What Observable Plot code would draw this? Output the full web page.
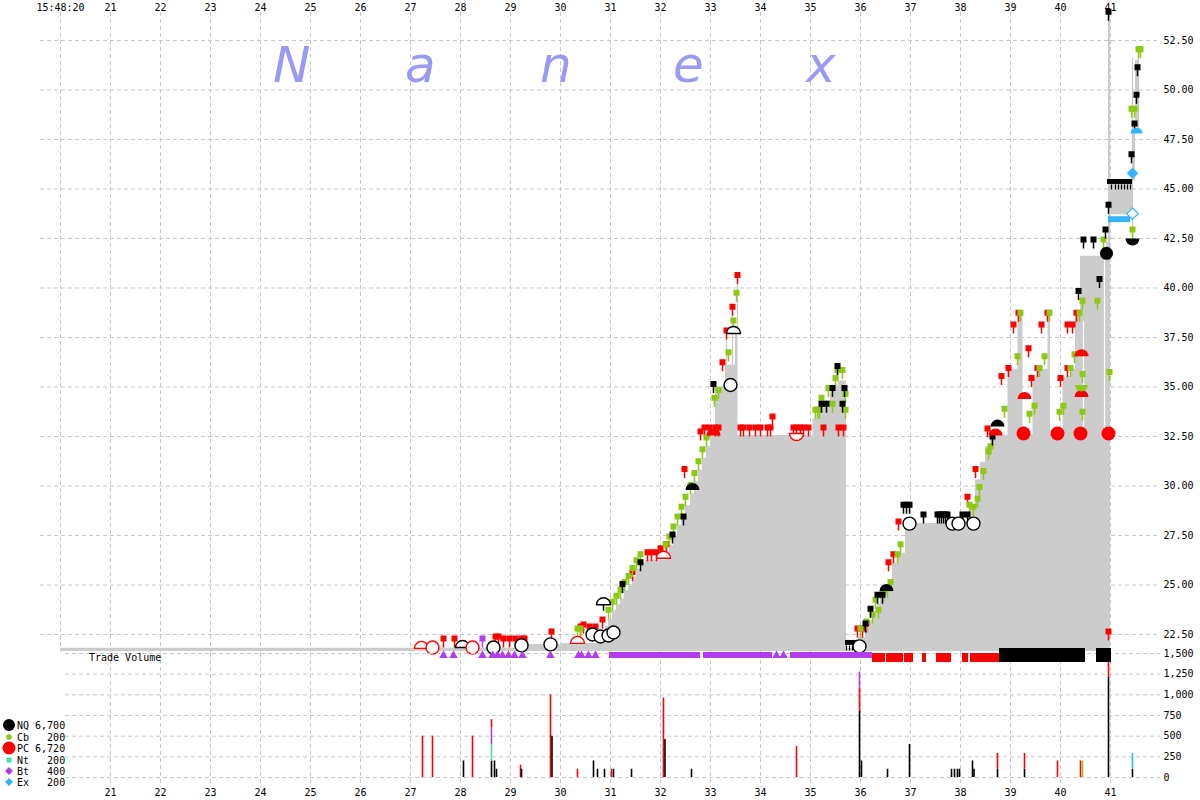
<!DOCTYPE html>
<html><head><meta charset="utf-8">
<script src="https://cdn.jsdelivr.net/npm/d3@7"></script>
<script src="https://cdn.jsdelivr.net/npm/@observablehq/plot@0.6"></script>
<style>
html,body{margin:0;padding:0;background:#fff;overflow:hidden;}
#wrap{position:relative;width:1200px;height:800px;overflow:hidden;}
.layer{position:absolute;left:0;}
</style></head><body><div id="wrap"></div>
<script>
// ---------- DATA ----------
const seconds = [20,21,22,23,24,25,26,27,28,29,30,31,32,33,34,35,36,37,38,39,40,41];
const timeLabels = ["15:48:20","21","22","23","24","25","26","27","28","29","30","31","32","33","34","35","36","37","38","39","40","41"];
const priceTicks = [22.5,25,27.5,30,32.5,35,37.5,40,42.5,45,47.5,50,52.5];
const volTicks = [0,250,500,750,1000,1250,1500];

// NBBO spread shading: [second, bid, ask]
const spreadRows = [
[20.0,21.64,21.8],[29.34,21.64,22.0],[30.0,21.64,22.05],[30.84,21.64,22.4],[30.9,21.64,22.9],
[30.96,21.64,23.3],[31.04,21.64,23.7],[31.12,21.64,24.0],[31.2,21.64,24.3],[31.28,21.64,24.7],
[31.36,21.64,25.0],[31.44,21.64,25.4],[31.52,21.64,25.8],[31.6,21.64,26.1],[31.7,21.64,26.25],
[32.1,21.64,26.6],[32.18,21.64,27.0],[32.26,21.64,27.5],[32.34,21.64,28.0],[32.42,21.64,28.5],
[32.5,21.64,29.0],[32.6,21.64,29.6],[32.68,21.64,30.2],[32.76,21.64,30.8],[32.84,21.64,31.4],
[32.92,21.64,32.0],[33.0,21.64,32.6],[33.1,21.64,35.0],[33.3,21.64,36.1],[33.5,21.64,37.7],
[33.55,21.64,32.55],[35.05,21.64,33.4],[35.15,21.64,33.9],[35.25,21.64,34.3],[35.4,21.64,35.0],
[35.55,21.64,35.3],[35.72,21.64,21.8],[35.96,21.64,22.35],[36.1,21.64,22.85],[36.2,21.64,23.2],
[36.26,21.64,23.55],[36.34,21.64,24.05],[36.4,21.64,24.5],[36.54,21.64,24.7],[36.6,21.64,25.2],
[36.64,21.64,26.1],[36.76,21.64,26.6],[36.9,21.64,28.1],[38.2,21.64,28.9],[38.3,21.64,30.3],
[38.4,21.64,31.2],[38.5,21.64,32.0],[38.6,21.64,32.55],[38.95,21.64,35.9],[39.15,21.64,38.7],
[39.25,21.64,32.6],[39.45,21.64,35.5],[39.55,21.64,35.9],[39.75,21.64,38.7],[39.8,21.64,32.6],
[40.05,21.64,35.5],[40.2,21.64,35.9],[40.3,21.64,38.7],[40.4,21.64,41.6],[40.92,21.64,42.3],
[40.96,21.64,53.8],[41.0,43.7,45.3],[41.44,45.4,48.0],[41.5,48.1,51.5],[41.58,48.1,51.5]
];

// quote pins [second, price]
const pcPins = [
[27.66,21.84],[27.88,21.84],[28.7,21.94],[28.76,21.94],[28.86,21.84],[28.98,21.84],[29.1,21.84],[29.22,21.84],[29.28,21.84],
[29.82,22.2],[30.4,22.45],[30.46,22.55],[30.58,22.45],[30.7,22.45],[30.84,22.8],[31.44,25.2],[31.74,26.2],[31.82,26.2],
[31.92,26.2],[32.0,26.4],[32.12,26.6],[32.48,30.4],[32.8,32.3],[32.88,32.5],[32.98,32.5],[33.1,32.5],[33.16,32.5],
[33.24,35.8],[33.32,37.4],[33.44,38.6],[33.54,40.2],[33.6,32.5],[33.66,32.5],[33.78,32.5],[33.9,32.5],[34.0,32.5],
[34.14,32.5],[34.2,32.5],[34.24,33.05],[34.66,32.5],[34.72,32.5],[34.8,32.5],[34.86,32.5],[34.96,32.5],[35.26,32.5],
[35.56,32.5],[35.66,32.5],[35.94,22.35],[36.04,22.35],[36.12,22.6],[36.56,25.7],[36.66,26.1],[36.76,27.75],
[38.14,29.0],[38.3,30.4],[38.54,32.45],[38.82,35.1],[38.96,35.5],[39.06,37.7],[39.16,38.3],[39.36,36.5],[39.42,35.0],
[39.54,35.5],[39.62,37.7],[39.74,38.3],[40.0,35.0],[40.14,35.5],[40.14,37.7],[40.24,37.7],[40.32,38.3],[40.96,22.2]
];
const cbPins = [
[30.34,22.35],[30.4,22.35],[30.96,23.3],[31.04,23.7],[31.12,24.0],[31.2,24.3],[31.28,24.7],[31.36,25.0],[31.44,25.4],
[31.52,25.8],[31.6,26.1],[32.1,26.6],[32.18,27.0],[32.26,27.5],[32.34,28.0],[32.42,28.5],[32.5,29.0],[32.6,29.6],
[32.68,30.2],[32.76,30.8],[32.84,31.4],[32.92,32.0],[33.08,34.0],[33.16,34.4],[33.36,36.3],[33.46,37.9],[33.52,39.3],
[35.1,33.4],[35.14,33.4],[35.18,33.4],[35.22,34.0],[35.36,34.5],[35.44,33.7],[35.5,35.0],[35.54,35.4],[35.64,35.4],
[35.7,34.2],[35.7,33.4],[36.0,22.35],[36.12,22.7],[36.24,23.05],[36.3,23.8],[36.36,23.3],[36.46,24.2],[36.54,24.35],
[36.6,24.7],[36.74,26.1],[36.8,26.6],[38.18,28.6],[38.26,28.5],[38.34,28.9],[38.38,29.5],[38.46,30.3],[38.56,31.3],
[38.6,31.55],[38.88,33.45],[39.14,36.1],[39.2,38.3],[39.38,33.2],[39.48,33.6],[39.58,35.5],[39.68,36.1],[39.78,38.3],
[39.98,33.3],[40.06,33.6],[40.2,35.5],[40.28,36.2],[40.38,38.3],[40.44,33.3],[40.44,35.2],[40.44,38.9],[40.74,38.9],
[40.98,35.3],[40.86,42.0],[41.44,42.5],[41.42,48.6],[41.48,48.6],[41.56,51.6],[41.6,51.6]
];
const nqPins = [
[30.86,23.7],[31.24,24.6],[31.6,25.7],[32.24,27.1],[32.46,28.0],[33.06,34.7],[35.22,33.7],[35.32,33.7],[35.44,34.5],
[35.54,35.6],[35.64,33.7],[35.68,34.5],[36.1,22.6],[36.2,23.35],[36.34,24.05],[36.44,24.05],[36.86,28.6],[36.92,28.6],
[36.98,28.6],[37.26,28.1],[37.54,28.1],[37.58,28.1],[37.62,28.1],[37.66,28.1],[37.7,28.1],[37.74,28.1],[38.04,28.1],
[38.14,28.1],[38.64,32.05],[40.36,39.4],[40.46,42.0],[40.66,42.0],[40.78,40.0],[40.9,42.5],[40.96,53.5],[40.96,43.75],
[41.42,46.3],[41.48,47.85],[41.52,49.3],[41.54,50.7]
];
const btPins = [[28.44,21.84]];
const ntSquares = [[28.56,21.75]];

// quote bars [start, end, low, high]
const nqBars = [[35.7,35.96,21.95,22.2],[40.94,41.44,45.23,45.48]];
const exBars = [[40.96,41.4,43.3,43.6]];
const nqHanging = [[35.72,21.95],[35.78,21.95],[35.84,21.95],[35.9,21.95],[41.02,45.23],[41.1,45.23],[41.16,45.23],[41.22,45.23],[41.28,45.23],[41.34,45.23],[41.4,45.23]];

// quote ranges [second, low, high]
const grayLines = [[33.54,37.7,40.2],[33.44,36.1,38.6],[33.32,36.1,37.4],[41.44,42.6,51.6],[41.56,48.0,51.6],[35.54,35.3,35.6]];
const whiteLines = [[38.82,32.6,35.1],[39.38,32.6,35.1],[39.98,32.6,35.2],[40.46,32.6,38.3],[40.88,32.6,41.6]];

// trades / large markers [second, price]
const nqDomes = [[32.64,29.8],[36.52,24.7],[38.74,33.0]];
const nqBowls = [[41.44,42.5]];
const pcDomes = [[38.7,32.55],[33.06,32.55],[39.28,34.4],[40.42,36.55],[40.42,34.5]];
const cbBowls = [[40.42,35.1]];
const nqOpenDomes = [[28.04,21.84],[30.86,24.0],[33.46,37.7]];
const pcOpenDomes = [[27.22,21.8],[30.34,22.05],[32.06,26.35]];
const pcOpenBowls = [[34.72,32.65]];
const nqCircles = [[28.66,21.84],[29.22,21.95],[29.8,22.0],[30.64,22.5],[30.8,22.4],[30.96,22.45],[31.06,22.6],[33.4,35.1],[35.98,21.9],[36.98,28.1],[37.84,28.1],[37.96,28.1],[38.26,28.1]];
const pcCircles = [[27.44,21.84],[28.24,21.84]];
const pcFilled = [[39.26,32.65],[39.94,32.65],[40.4,32.65],[40.96,32.65]];
const nqFilled = [[40.92,41.75]];
const exDomes = [[41.52,47.8]];
const exDiamonds = [[41.44,45.8]];
const exOpenDiamonds = [[41.44,43.75]];

// trade strip
const btTrades = [27.66,27.86,28.44,28.64,28.74,28.84,28.96,29.08,29.24,29.8,30.36,30.42,30.56,30.7,34.32,34.46];
const btRuns = [[30.98,32.8],[32.86,34.24],[34.6,36.24]];
const pcRuns = [[36.24,36.5],[36.52,36.86],[36.88,37.06],[37.24,37.32],[37.52,37.82],[38.04,38.16],[38.2,38.84]];
const nqRuns = [[38.78,40.5],[40.72,41.02]];

// trade volume [second, exchange, shares]
const volRows = [
[27.24,"PC",500],[27.44,"PC",500],[28.06,"NQ",200],[28.24,"PC",500],
[28.62,"NQ",200],[28.62,"Nt",200],[28.62,"Bt",200],[28.62,"PC",100],[28.68,"NQ",200],[28.72,"NQ",100],
[29.2,"PC",150],[29.22,"NQ",100],[29.8,"PC",1000],[29.83,"NQ",500],[30.34,"PC",100],[30.66,"NQ",200],
[30.74,"NQ",100],[30.88,"NQ",100],[31.02,"PC",100],[31.06,"NQ",100],[31.42,"NQ",100],[32.06,"PC",960],
[32.09,"NQ",460],[32.62,"NQ",100],[34.72,"PC",375],[35.98,"NQ",800],[35.98,"PC",275],[35.98,"Bt",200],
[36.02,"NQ",200],[36.54,"NQ",100],[36.98,"NQ",400],[37.82,"NQ",100],[37.88,"NQ",100],[37.94,"NQ",100],
[37.98,"NQ",100],[38.24,"NQ",200],[38.27,"NQ",100],[38.74,"NQ",100],[38.74,"PC",190],[39.28,"NQ",100],
[39.28,"PC",190],[39.94,"PC",200],[40.4,"PC",200],[40.44,"Cb",200],[40.96,"NQ",1210],[40.96,"PC",300],
[41.44,"NQ",100],[41.44,"Ex",190]
];

// legend
const legendNames = ["NQ","Cb","PC","Nt","Bt","Ex"];
const legendCounts = ["6,700","200","6,720","200","400","200"];

// ---------- STYLE ----------
const colors = {NQ:"#000000", Cb:"#8cc814", PC:"#ff0000", Nt:"#3ce6b4", Bt:"#b43cf0", Ex:"#32b4ff"};
const GRID = {stroke:"#c8c8c8", strokeDasharray:"4,3", strokeWidth:1};
const FONT = "'DejaVu Sans Mono', monospace";
const X0 = 19.6, X1 = 42.0;

const pts = a => a.map(([t,p]) => ({t,p}));
const pinUp = {draw(ctx){ ctx.rect(-0.75,-6,1.5,6); ctx.rect(-3,-12,6,6); }};
const stemDown = {draw(ctx){ ctx.rect(-0.6,0,1.2,5); }};
const dome = {draw(ctx,size){ const r=Math.sqrt(size/Math.PI); ctx.moveTo(r,0); ctx.arc(0,0,r,0,Math.PI,true); ctx.closePath(); }};
const bowl = {draw(ctx,size){ const r=Math.sqrt(size/Math.PI); ctx.moveTo(r,0); ctx.arc(0,0,r,0,Math.PI,false); ctx.closePath(); }};

const pinMark = (arr, color) => Plot.dot(pts(arr), {x:"t", y:"p", symbol:pinUp, r:2, fill:color, stroke:"none"});
const shapeMark = (arr, sym, r, fill, stroke, sw=1.4) => Plot.dot(pts(arr), {x:"t", y:"p", symbol:sym, r, fill, stroke, strokeWidth:sw});

const wrap = document.getElementById("wrap");
function place(node, top){ const d=document.createElement("div"); d.className="layer"; d.style.top=top+"px"; d.appendChild(node); wrap.appendChild(d); }

// ---------- PRICE PANEL ----------
const spread = spreadRows.map(([t,bid,ask]) => ({t,bid,ask}));
const price = Plot.plot({
  width:1200, height:652, marginTop:12, marginBottom:0, marginLeft:40, marginRight:40,
  style:{fontFamily:FONT, fontSize:"10px", background:"transparent", overflow:"visible", color:"#000"},
  x:{domain:[X0,X1], axis:"top", ticks:seconds, tickFormat:(d)=>timeLabels[seconds.indexOf(d)], tickSize:0, tickPadding:2, label:null},
  y:{domain:[21.591,53.914], axis:"right", ticks:priceTicks, tickFormat:d3.format(".2f"), tickSize:0, tickPadding:3, label:null},
  marks:[
    Plot.ruleY(priceTicks, GRID),
    Plot.ruleX(seconds, GRID),
    Plot.areaY(spread, {x:"t", y1:"bid", y2:"ask", curve:"step-after", fill:"#cccccc"}),
    Plot.ruleX(grayLines, {x:d=>d[0], y1:d=>d[1], y2:d=>d[2], stroke:"#c8c8c8", strokeWidth:1.2}),
    Plot.ruleX(whiteLines, {x:d=>d[0], y1:d=>d[1], y2:d=>d[2], stroke:"#ffffff", strokeWidth:1.2}),
    Plot.rect(nqBars, {x1:d=>d[0], x2:d=>d[1], y1:d=>d[2], y2:d=>d[3], fill:colors.NQ}),
    Plot.rect(exBars, {x1:d=>d[0], x2:d=>d[1], y1:d=>d[2], y2:d=>d[3], fill:colors.Ex}),
    Plot.dot(pts(nqHanging), {x:"t", y:"p", symbol:stemDown, r:2, fill:colors.NQ, stroke:"none"}),
    pinMark(pcPins, colors.PC),
    pinMark(cbPins, colors.Cb),
    pinMark(nqPins, colors.NQ),
    pinMark(btPins, colors.Bt),
    shapeMark(ntSquares, "square", 2.5, colors.Nt, "none"),
    shapeMark(pcOpenDomes, dome, 7, "white", colors.PC),
    shapeMark(nqOpenDomes, dome, 7, "white", colors.NQ),
    shapeMark(pcOpenBowls, bowl, 7, "white", colors.PC),
    shapeMark(pcDomes, dome, 7, colors.PC, "none"),
    shapeMark(nqDomes, dome, 7, colors.NQ, "none"),
    shapeMark(nqBowls, bowl, 7, colors.NQ, "none"),
    shapeMark(cbBowls, bowl, 6.5, colors.Cb, "none"),
    shapeMark(pcCircles, "circle", 6.5, "white", colors.PC),
    shapeMark(nqCircles, "circle", 6.5, "white", colors.NQ),
    shapeMark(pcFilled, "circle", 7, colors.PC, "none"),
    shapeMark(nqFilled, "circle", 6.5, colors.NQ, "none"),
    shapeMark(exDomes, dome, 6, colors.Ex, "none"),
    shapeMark(exDiamonds, "diamond2", 5.2, colors.Ex, "none"),
    shapeMark(exOpenDiamonds, "diamond2", 5.2, "white", colors.Ex, 1.2)
  ]
});
place(price, 0);

// ---------- VOLUME PANEL ----------
const vol = volRows.map(([t,ex,v]) => ({t,ex,v}));
const volume = Plot.plot({
  width:1200, height:200, marginTop:53, marginBottom:13, marginLeft:65, marginRight:40,
  style:{fontFamily:FONT, fontSize:"10px", background:"transparent", overflow:"visible", color:"#000"},
  color:{type:"identity"},
  x:{domain:[20.1,X1], axis:"bottom", ticks:seconds.slice(1), tickFormat:d=>String(d), tickSize:0, tickPadding:1, label:null},
  y:{domain:[-121,1500], axis:"right", ticks:volTicks, tickFormat:d3.format(","), tickSize:0, tickPadding:3, label:null},
  marks:[
    Plot.ruleY(volTicks, GRID),
    Plot.ruleX(seconds.slice(1), GRID),
    Plot.ruleX(vol, Plot.stackY({x:"t", y:"v", stroke:d=>colors[d.ex], strokeWidth:1.6}))
  ]
});
place(volume, 600);

// ---------- TRADE STRIP ----------
const strip = Plot.plot({
  width:1200, height:18, marginTop:0, marginBottom:0, marginLeft:40, marginRight:40,
  style:{background:"transparent", overflow:"visible"},
  x:{domain:[X0,X1], axis:null}, y:{axis:null},
  marks:[
    Plot.rect(btRuns, {x1:d=>d[0], x2:d=>d[1], insetTop:6, insetBottom:6, fill:colors.Bt}),
    Plot.dot(btTrades, {x:d=>d, symbol:"triangle", r:3.2, fill:colors.Bt, stroke:"none"}),
    Plot.rect(pcRuns, {x1:d=>d[0], x2:d=>d[1], insetTop:7, insetBottom:2, fill:colors.PC}),
    Plot.rect(nqRuns, {x1:d=>d[0], x2:d=>d[1], insetTop:2, insetBottom:2, fill:colors.NQ})
  ]
});
place(strip, 646);

// ---------- OVERLAY: watermark, strip label, legend ----------
const svg = d3.create("svg").attr("width",1200).attr("height",800).style("position","absolute").style("left",0).style("top",0)
  .style("pointer-events","none");
const letters = ["N","a","n","e","x"];
const letterX = [273,405,540,673,806];
svg.selectAll("text.wm").data(letters).join("text").attr("class","wm")
  .attr("x",(d,i)=>letterX[i]).attr("y",82)
  .attr("font-family","'DejaVu Sans', sans-serif").attr("font-style","italic").attr("font-size",50)
  .attr("fill","#9a9af5").text(d=>d);
svg.append("text").attr("x",89).attr("y",661).attr("font-family",FONT).attr("font-size",10).text("Trade Volume");
const ly = [725,737,748,760,771,782];
const lg = svg.append("g");
legendNames.forEach((n,i)=>{
  const c = colors[n], y = ly[i];
  if (n==="NQ") lg.append("circle").attr("cx",9).attr("cy",y).attr("r",6).attr("fill",c);
  else if (n==="Cb") lg.append("circle").attr("cx",9).attr("cy",y).attr("r",2.8).attr("fill",c);
  else if (n==="PC") lg.append("circle").attr("cx",9).attr("cy",y).attr("r",6.5).attr("fill",c);
  else if (n==="Nt") lg.append("rect").attr("x",6.5).attr("y",y-2.5).attr("width",5).attr("height",5).attr("fill",c);
  else lg.append("path").attr("d",`M9,${y-4}L13,${y}L9,${y+4}L5,${y}Z`).attr("fill",c);
  lg.append("text").attr("x",17).attr("y",y+3.5).attr("font-family",FONT).attr("font-size",10)
    .attr("xml:space","preserve").style("white-space","pre")
    .text(n + " " + legendCounts[i].padStart(5," "));
});
wrap.appendChild(svg.node());
</script></body></html>
